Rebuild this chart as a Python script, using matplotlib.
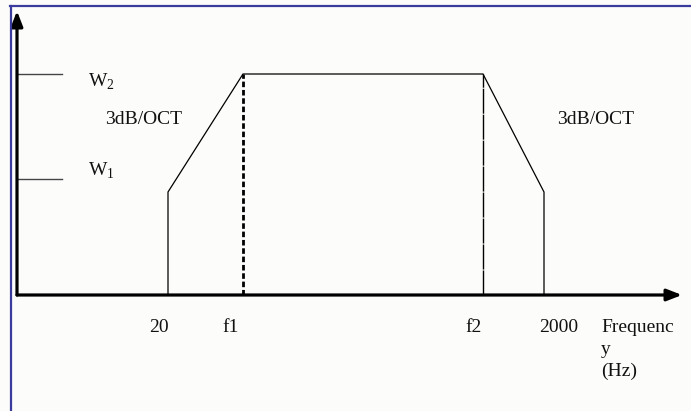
import matplotlib
matplotlib.use("Agg")
import matplotlib.pyplot as plt
from matplotlib.lines import Line2D

plt.rcParams['font.family'] = ['Liberation Serif', 'DejaVu Serif']
plt.rcParams['mathtext.fontset'] = 'custom'
plt.rcParams['mathtext.rm'] = 'Liberation Serif'

# schematic positions (x) of the frequency marks and levels (y)
freq_labels = ["20", "f1", "f2", "2000"]
freq_pos = [151, 226, 466, 527]
level_labels = ["W$_\\mathrm{1}$", "W$_\\mathrm{2}$"]
level_vals = [116, 221]
edge_level = 103
slope_label = "3dB/OCT"
x_label = "Frequenc\ny\n(Hz)"

bg = "#fcfdfb"
fig = plt.figure(figsize=(6.91, 4.11), dpi=100, facecolor=bg)
ax = fig.add_axes([0, 0, 1, 1])
ax.set_facecolor(bg)
ax.set_xlim(-17, 674)
ax.set_ylim(-116, 295)
ax.axis("off")

# response curve
cx = [freq_pos[0], freq_pos[0], freq_pos[1], freq_pos[2], freq_pos[3], freq_pos[3]]
cy = [0, edge_level, level_vals[1], level_vals[1], edge_level, 0]
ax.plot(cx, cy, color="black", lw=0.9, solid_joinstyle="miter")

# dashed markers
ax.plot([freq_pos[1], freq_pos[1]], [0, level_vals[1]], color="black", lw=2.0,
        linestyle=(0, (2, 1)))
ax.plot([freq_pos[2], freq_pos[2]], [0, level_vals[1]], color="black", lw=1.0,
        linestyle=(0, (18, 0.7)))

# level tick lines
for lv in level_vals:
    ax.plot([0, 45], [lv, lv], color="#444444", lw=1.0)

# axes with arrows
ax.annotate("", xy=(665, 0), xytext=(0, 0),
            arrowprops=dict(arrowstyle="-|>,head_length=0.9,head_width=0.35",
                            color="black", lw=2.3, shrinkA=0, shrinkB=0))
ax.annotate("", xy=(0, 284), xytext=(0, 0),
            arrowprops=dict(arrowstyle="-|>,head_length=0.9,head_width=0.35",
                            color="black", lw=2.3, shrinkA=0, shrinkB=0))

fs = 14
tc = "#111111"
# level labels
ax.text(71, level_vals[1] - 8, level_labels[1], fontsize=fs, ha="left", va="center", color=tc)
ax.text(71, level_vals[0] + 8, level_labels[0], fontsize=fs, ha="left", va="center", color=tc)
# slope labels
ax.text(88, 175, slope_label, fontsize=fs, ha="left", va="center", color=tc)
ax.text(540, 175, slope_label, fontsize=fs, ha="left", va="center", color=tc)
# frequency labels
label_x = [142, 214, 457, 542]
for lx, t in zip(label_x, freq_labels):
    ax.text(lx, -32, t, fontsize=fs, ha="center", va="center", color=tc)
ax.text(584, -24, x_label, fontsize=fs, ha="left", va="top",
        linespacing=1.38, color=tc)

# frame lines (top and left, blue)
fig.add_artist(Line2D([10.5 / 691, 10.5 / 691], [0, 1 - 6 / 411], color="#3b3b9e", lw=1.6))
fig.add_artist(Line2D([10 / 691, 1], [1 - 6.5 / 411, 1 - 6.5 / 411], color="#3b3b9e", lw=1.6))

fig.savefig("out.png", dpi=100, facecolor=bg)
